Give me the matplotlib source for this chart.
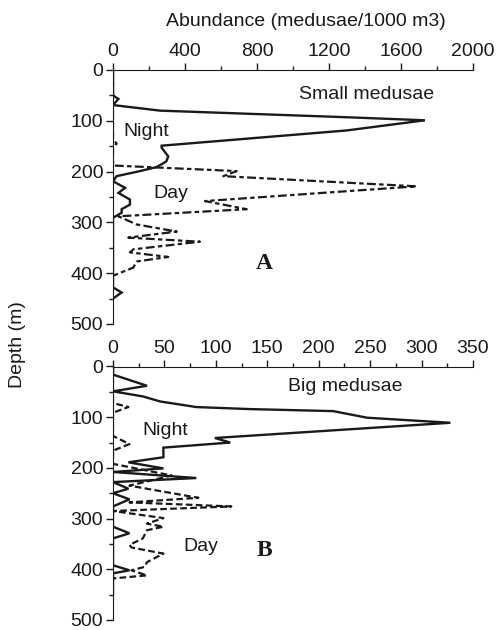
import numpy as np
import matplotlib
matplotlib.use('Agg')
import matplotlib.pyplot as plt
from matplotlib.ticker import MultipleLocator

plt.rcParams['font.family'] = ['Liberation Sans', 'DejaVu Sans']

# small medusae (A)
small_night_x = [0, 0, 30, 0, 261, 1298, 1733, 1298, 270, 270, 307, 296, 243, 150, 20, 0,
                 67, 30, 94, 94, 48, 48, 0, 0, 48, 0]
small_night_d = [0, 50, 57, 69, 80, 93, 99, 119, 149, 153, 170, 180, 191, 199, 209, 219,
                 232, 242, 255, 265, 274, 281, 291, 428, 438, 450]
small_day_x = [0, 0, 20, 0, 0, 687, 613, 1687, 511, 743, 30, 131, 354, 85, 483, 113, 94,
               307, 131, 113, 0]
small_day_d = [0, 135, 145, 152, 188, 199, 209, 229, 258, 274, 288, 304, 318, 330, 338,
               353, 359, 368, 377, 389, 405]

# big medusae (B)
big_night_x = [0, 0, 33, 0, 29, 46, 81, 133, 214, 247, 328, 99, 114, 49, 49, 15, 49, 0,
               81, 0, 15, 0, 16, 0, 0, 16, 0, 0, 16, 0, 0]
big_night_d = [0, 16, 38, 49, 59, 69, 80, 84, 88, 101, 111, 141, 150, 160, 179, 189, 201,
               208, 220, 228, 241, 250, 262, 276, 316, 329, 339, 392, 402, 408, 450]
big_day_x = [0, 0, 15, 0, 0, 16, 0, 0, 57, 16, 83, 16, 115, 0, 49, 33, 49, 33, 29, 16,
             18, 49, 33, 31, 18, 33, 0]
big_day_d = [0, 72, 80, 91, 137, 153, 166, 192, 215, 235, 259, 268, 276, 285, 299, 310,
             316, 323, 339, 352, 357, 369, 386, 395, 402, 412, 418]

FS = 14
INK = '#1a1a1a'

fig = plt.figure(figsize=(4.99, 6.3), dpi=100)
ax1 = fig.add_axes([113/499, 1 - 324/630, 360/499, 254/630])
ax2 = fig.add_axes([113/499, 1 - 620/630, 360/499, 253.5/630])

ax1.plot(small_night_x, small_night_d, color=INK, lw=1.7, solid_joinstyle='miter')
ax1.plot(small_day_x, small_day_d, color=INK, lw=1.6, linestyle=(0, (4, 1.5, 2, 1.5)))
ax2.plot(big_night_x, big_night_d, color=INK, lw=1.7, solid_joinstyle='miter')
ax2.plot(big_day_x, big_day_d, color=INK, lw=1.6, linestyle=(0, (3, 1.5)))

for ax, xmax, step in [(ax1, 2000, 400), (ax2, 350, 50)]:
    ax.set_xlim(0, xmax)
    ax.set_ylim(500, 0)
    ax.xaxis.set_major_locator(MultipleLocator(step))
    ax.xaxis.set_minor_locator(MultipleLocator(step / 2))
    ax.yaxis.set_major_locator(MultipleLocator(100))
    ax.yaxis.set_minor_locator(MultipleLocator(50))
    ax.xaxis.tick_top()
    ax.spines['right'].set_visible(False)
    ax.spines['bottom'].set_visible(False)
    ax.spines['left'].set_color(INK)
    ax.spines['top'].set_color(INK)
    ax.tick_params(which='major', length=5, width=1, labelsize=FS, colors=INK, pad=2)
    ax.tick_params(which='minor', length=3, width=1, colors=INK)
    ax.set_facecolor('none')

ax1.text(1411, 49, 'Small medusae', fontsize=FS, ha='center', va='center', color=INK)
ax1.text(55, 122, 'Night', fontsize=FS, ha='left', va='center', color=INK)
ax1.text(222, 243, 'Day', fontsize=FS, ha='left', va='center', color=INK)
ax1.text(839, 380, 'A', fontsize=17, ha='center', va='center', fontweight='bold',
         family='Liberation Serif', color=INK)

ax2.text(226, 39, 'Big medusae', fontsize=FS, ha='center', va='center', color=INK)
ax2.text(29, 127, 'Night', fontsize=FS, ha='left', va='center', color=INK)
ax2.text(68, 356, 'Day', fontsize=FS, ha='left', va='center', color=INK)
ax2.text(147, 363, 'B', fontsize=17, ha='center', va='center', fontweight='bold',
         family='Liberation Serif', color=INK)

fig.text(306/499, 1 - 21/630, 'Abundance (medusae/1000 m3)', fontsize=FS,
         ha='center', va='center', color=INK)
fig.text(18/499, 1 - 345/630, 'Depth (m)', fontsize=FS, rotation=90,
         ha='center', va='center', color=INK)

fig.savefig('out.png', dpi=100)
